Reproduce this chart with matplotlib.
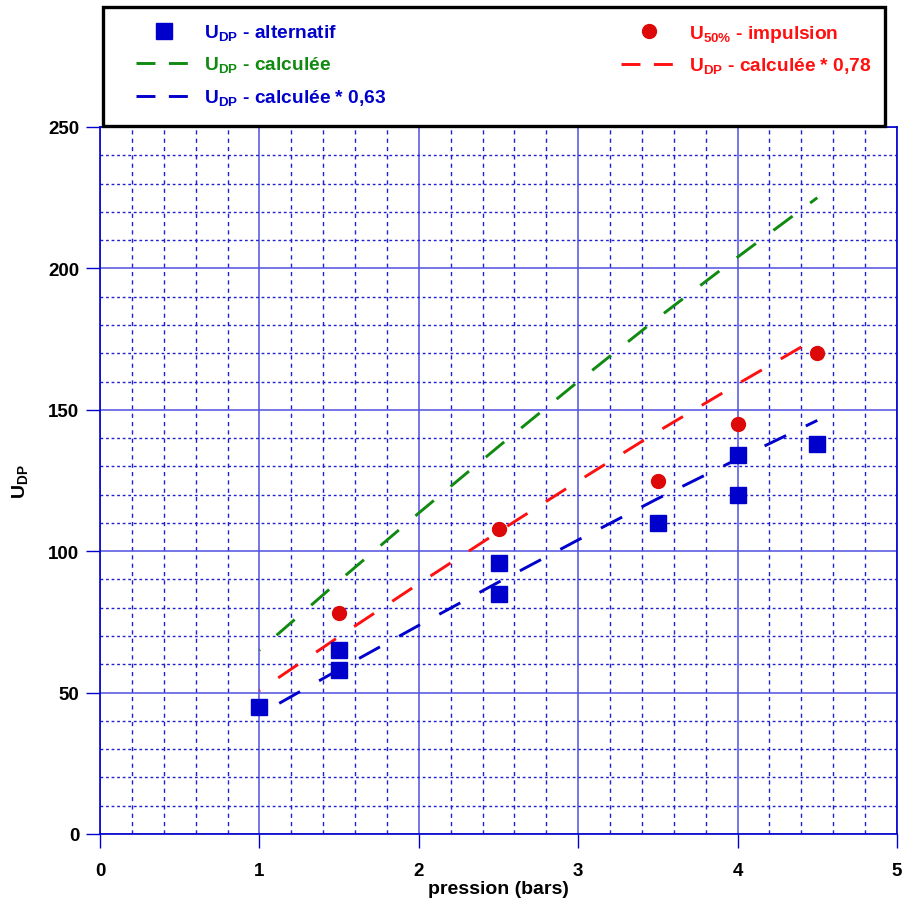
import numpy as np
import matplotlib
matplotlib.use('Agg')
import matplotlib.pyplot as plt
from matplotlib.lines import Line2D
from matplotlib.patches import Rectangle

plt.rcParams['font.family'] = 'Liberation Sans'
plt.rcParams['font.weight'] = 'bold'
plt.rcParams['mathtext.fontset'] = 'custom'
plt.rcParams['mathtext.rm'] = 'Liberation Sans:bold'
plt.rcParams['mathtext.bf'] = 'Liberation Sans:bold'

# mesures - alternatif
p_alt = [1.0, 1.5, 1.5, 2.5, 2.5, 3.5, 4.0, 4.0, 4.5]
u_alt = [45, 65, 58, 96, 85, 110, 134, 120, 138]

# mesures - impulsion
p_imp = [1.5, 2.5, 3.5, 4.0, 4.5]
u_imp = [78, 108, 125, 145, 170]

# tension calculee
p_calc = [1.0, 1.5, 2.0, 2.5, 3.0, 3.5, 4.0, 4.5]
u_calc = [65, 89.5, 113.5, 137, 160, 182.5, 204, 225]
k_red = 0.78
k_blue = 0.65   # valeur (legende : 0,63)

BLUE = '#0000cc'
GREEN = '#118a11'
RED = '#ff1010'
RED_PT = '#dd0808'
GRIDC = '#2020d0'

u_calc = np.array(u_calc)

fig = plt.figure(figsize=(9.03, 9.03), dpi=100)
ax = fig.add_axes([100/903, 68/903, 797/903, 707/903])

lw = 2.1
dash = (8.2, 7.5)
ax.plot(p_calc, u_calc, color=GREEN, lw=lw, linestyle=(7.9, dash), zorder=3)
ax.plot(p_calc, u_calc * k_red, color=RED, lw=lw, linestyle=(7.9, dash), zorder=3)
ax.plot(p_calc, u_calc * k_blue, color=BLUE, lw=lw, linestyle=(7.9, dash), zorder=3)
ax.plot(p_alt, u_alt, 's', color=BLUE, ms=11.3, mec=BLUE, zorder=4)
ax.plot(p_imp, u_imp, 'o', color=RED_PT, ms=10, mec=RED_PT, zorder=4)

ax.set_xlim(0, 5)
ax.set_ylim(0, 250)
ax.set_xticks(range(6))
ax.set_yticks(range(0, 251, 50))
ax.set_xticks(np.arange(0, 5.01, 0.2), minor=True)
ax.set_yticks(range(0, 251, 10), minor=True)
ax.set_axisbelow(True)
ax.grid(which='major', color='#5050e0', lw=1.1, ls='-')
ax.grid(which='minor', axis='x', color=GRIDC, lw=1.0, ls=(0, (3, 3)))
ax.grid(which='minor', axis='y', color=GRIDC, lw=1.0, ls=(0, (2, 2)))
for s in ax.spines.values():
    s.set_color(BLUE)
    s.set_linewidth(1.2)

ax.tick_params(which='major', direction='out', length=10, width=1, color=BLUE,
               labelsize=13.5, labelcolor='black')
ax.tick_params(axis='x', which='major', pad=10)
ax.tick_params(axis='y', which='major', pad=5)
ax.tick_params(which='minor', length=0)
for t in ax.get_xticklabels() + ax.get_yticklabels():
    t.set_fontweight('bold')

ax.set_xlabel('pression (bars)', fontsize=14, fontweight='bold', labelpad=1)
ax.set_ylabel(r'U$_{\mathbf{DP}}$', fontsize=14, fontweight='bold', labelpad=12)

# cadre de la legende
fig.patches.append(Rectangle((103/903, (903-127)/903), 782/903, 119/903,
                             transform=fig.transFigure, facecolor='white',
                             edgecolor='black', lw=2.4, zorder=1))

ldash = (6.5, 4.6)
h1 = [Line2D([], [], ls='none', marker='s', color=BLUE, ms=11.3),
      Line2D([], [], color=GREEN, lw=lw, ls=(0, ldash)),
      Line2D([], [], color=BLUE, lw=lw, ls=(0, ldash))]
l1 = [r'U$_{\mathbf{DP}}$ - alternatif', r'U$_{\mathbf{DP}}$ - calculée',
      r'U$_{\mathbf{DP}}$ - calculée * 0,63']
h2 = [Line2D([], [], ls='none', marker='o', color=RED_PT, ms=10),
      Line2D([], [], color=RED, lw=lw, ls=(0, ldash))]
l2 = [r'U$_{\mathbf{50\%}}$ - impulsion', r'U$_{\mathbf{DP}}$ - calculée * 0,78']

fs = 13.8
leg1 = fig.legend(h1, l1, loc='upper left', bbox_to_anchor=(136/903, 1 - 24/903),
                  frameon=False, handlelength=2.9, handletextpad=0.65,
                  labelspacing=0.62, borderpad=0, borderaxespad=0,
                  prop={'weight': 'bold', 'size': fs})
for t, c in zip(leg1.get_texts(), [BLUE, GREEN, BLUE]):
    t.set_color(c)
leg2 = fig.legend(h2, l2, loc='upper left', bbox_to_anchor=(621/903, 1 - 24/903),
                  frameon=False, handlelength=2.9, handletextpad=0.65,
                  labelspacing=0.62, borderpad=0, borderaxespad=0,
                  prop={'weight': 'bold', 'size': fs})
for t, c in zip(leg2.get_texts(), [RED, RED]):
    t.set_color(c)

fig.savefig('out.png', dpi=100)
